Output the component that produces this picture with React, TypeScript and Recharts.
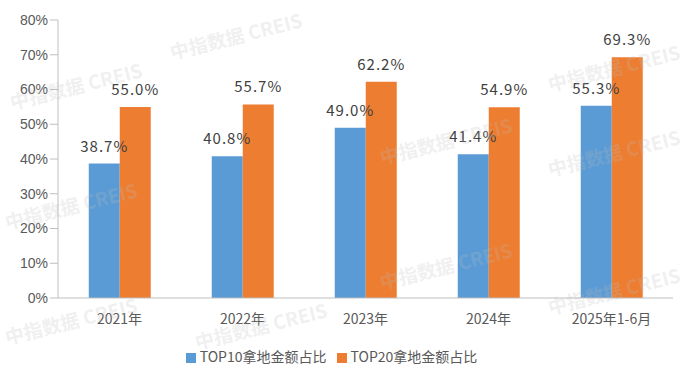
import React from "react";
import { BarChart, Bar, XAxis, YAxis, Legend, LabelList } from "recharts";

const years = ["2021年", "2022年", "2023年", "2024年", "2025年1-6月"];
const top10 = [38.7, 40.8, 49.0, 41.4, 55.3];
const top20 = [55.0, 55.7, 62.2, 54.9, 69.3];
const yTicks = [0, 10, 20, 30, 40, 50, 60, 70, 80];

const data = years.map((name, i) => ({ name, top10: top10[i], top20: top20[i] }));

const FONT = "'Noto Sans CJK SC', 'Noto Sans', sans-serif";

const marks = [
  [10, 100], [170, 50], [380, 155], [548, 82], [5, 220],
  [380, 280], [548, 167], [548, 305], [5, 335], [195, 340],
];

const Watermarks = () => (
  <>
    {marks.map(([x, y], i) => (
      <div
        key={i}
        style={{
          position: "absolute",
          left: x,
          top: y - 12,
          transform: "rotate(-14deg)",
          transformOrigin: "left center",
          fontFamily: FONT,
          fontSize: 19,
          fontWeight: 700,
          color: "rgba(190,190,190,0.24)",
          whiteSpace: "nowrap",
          pointerEvents: "none",
        }}
      >
        中指数据 CREIS
      </div>
    ))}
  </>
);

const fmt = (v: number) => `${v.toFixed(1)}%`;

export default function App() {
  return (
    <div style={{ position: "absolute", left: 0, top: 0, width: 695, height: 382, background: "#fff" }}>
      <BarChart
        width={695}
        height={382}
        data={data}
        margin={{ top: 20, right: 22, left: 0, bottom: 32 }}
        barCategoryGap="25%"
        barGap={0}
      >
        <XAxis
          dataKey="name"
          tickLine={false}
          axisLine={{ stroke: "#bfbfbf" }}
          tick={{ fill: "#595959", fontSize: 14, fontFamily: FONT }}
          tickMargin={10}
          height={32}
        />
        <YAxis
          domain={[0, 80]}
          ticks={yTicks}
          tickFormatter={(v: number) => `${v}%`}
          axisLine={{ stroke: "#bfbfbf" }}
          tickLine={{ stroke: "#bfbfbf" }}
          tickSize={8}
          tick={{ fill: "#595959", fontSize: 14, fontFamily: "'Liberation Sans', Arial, sans-serif" }}
          width={58}
          interval={0}
        />
        <Legend
          verticalAlign="bottom"
          iconType="square"
          iconSize={10}
          wrapperStyle={{ fontFamily: FONT, fontSize: 14, top: 346, bottom: "auto" }}
          formatter={(value: string) => <span style={{ color: "#595959" }}>{value}</span>}
        />
        <Bar dataKey="top10" name="TOP10拿地金额占比" fill="#5b9bd5" isAnimationActive={false}>
          <LabelList
            dataKey="top10"
            position="top"
            offset={12}
            formatter={fmt}
            style={{ fill: "#404040", fontSize: 15, fontFamily: FONT, letterSpacing: 1 }}
          />
        </Bar>
        <Bar dataKey="top20" name="TOP20拿地金额占比" fill="#ed7d31" isAnimationActive={false}>
          <LabelList
            dataKey="top20"
            position="top"
            offset={12}
            formatter={fmt}
            style={{ fill: "#404040", fontSize: 15, fontFamily: FONT, letterSpacing: 1 }}
          />
        </Bar>
      </BarChart>
      <Watermarks />
    </div>
  );
}
